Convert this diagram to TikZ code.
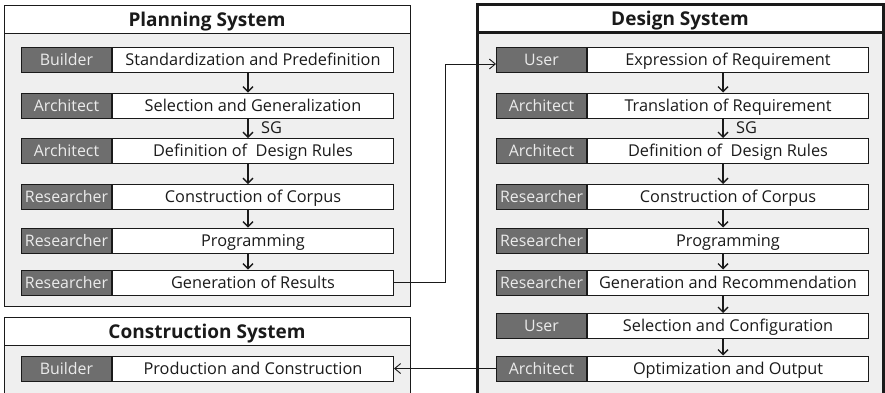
\documentclass[tikz,border=0pt]{standalone}
\usepackage{fontspec}
\setmainfont{Open Sans}
\usetikzlibrary{arrows.meta}
\definecolor{panelbg}{HTML}{EFEFEF}
\definecolor{rolebg}{HTML}{6E6E6E}
\definecolor{rolefg}{HTML}{EBEBEB}
\definecolor{ink}{HTML}{1A1A1A}
\tikzset{
  txt/.style={font=\fontsize{16.3}{18}\selectfont},
  rolebox/.style={draw=ink, line width=1pt, fill=rolebg, text=rolefg,
    font=\fontsize{15.9}{18}\selectfont, text height=11.35pt, text depth=0pt,
    minimum width=90pt, minimum height=25pt, inner sep=0pt, anchor=east},
  taskbox/.style={draw=ink, line width=1pt, fill=white, text=ink, txt,
    text height=11.6pt, text depth=0pt,
    minimum width=281pt, minimum height=25pt, inner sep=0pt, anchor=west},
  panel/.style={draw=ink, line width=1pt, fill=panelbg},
  headbar/.style={draw=ink, line width=1pt, fill=white},
  headtxt/.style={font=\fontsize{19}{21}\selectfont\bfseries, text=ink,
    text height=13.6pt, text depth=0pt},
  flow/.style={draw=ink, line width=1.4pt,
    -{Straight Barb[length=5pt, width=10pt, line width=1.4pt]}},
  link/.style={draw=ink, line width=0.9pt,
    -{Straight Barb[length=6pt, width=10pt, line width=0.9pt]}},
  sg/.style={txt, text=ink, anchor=west, inner sep=0pt}
}
\begin{document}
\begin{tikzpicture}[x=1pt, y=-1pt]
\useasboundingbox (0,0) rectangle (885,392);
\fill[white] (0,0) rectangle (885,392);

% Planning system panel
\path[panel] (4,5) rectangle (410,306);
\path[headbar] (4,5) rectangle (410,33);
\node[headtxt] (ptitle) at (207,19.5) {Planning System};

% Construction system panel
\path[panel] (4,317) rectangle (410,400);
\path[headbar] (4,317) rectangle (410,345);
\node[headtxt] (ctitle) at (207,331.5) {Construction System};

% Design system panel
\path[panel, line width=3pt] (477,4) rectangle (883,400);
\path[headbar, line width=3pt] (477,4) rectangle (883,32);
\node[headtxt] (dtitle) at (680,18.5) {Design System};

% Planning rows
\foreach \i/\y/\r/\t in {
  1/60/Builder/Standardization and Predefinition,
  2/105.5/Architect/Selection and Generalization,
  3/151/Architect/Definition of\ \ Design Rules,
  4/197/Researcher/Construction of Corpus,
  5/240.5/Researcher/Programming,
  6/282.5/Researcher/Generation of Results}{
  \node[rolebox] (p\i r) at (112,\y) {\r};
  \node[taskbox] (p\i t) at (112,\y) {\t};
}

% Construction row
\node[rolebox] (c1r) at (112,368.5) {Builder};
\node[taskbox] (c1t) at (112,368.5) {Production and Construction};

% Design rows
\foreach \i/\y/\r/\t in {
  1/60/User/Expression of Requirement,
  2/105.5/Architect/Translation of Requirement,
  3/151/Architect/Definition of\ \ Design Rules,
  4/197/Researcher/Construction of Corpus,
  5/240.5/Researcher/Programming,
  6/282.5/Researcher/Generation and Recommendation,
  7/326/User/Selection and Configuration,
  8/368.5/Architect/Optimization and Output}{
  \node[rolebox] (d\i r) at (587,\y) {\r};
  \node[taskbox] (d\i t) at (587,\y) {\t};
}

% Step arrows inside the planning panel
\foreach \a/\b in {1/2,2/3,3/4,4/5,5/6}{
  \draw[flow] ([xshift=-5pt]p\a t.south) -- ([xshift=-5pt]p\b t.north);
}
\node[sg] (psg) at ([xshift=8pt, yshift=-9.5pt]p2t.south) {SG};

% Step arrows inside the design panel
\foreach \a/\b in {1/2,2/3,3/4,4/5,5/6,6/7,7/8}{
  \draw[flow] ([xshift=-5pt]d\a t.south) -- ([xshift=-5pt]d\b t.north);
}
\node[sg] (dsg) at ([xshift=8pt, yshift=-9.5pt]d2t.south) {SG};

% Links between the systems
\coordinate (bend) at (445,282.5);
\draw[link] (p6t.east) -- (bend) |- ([yshift=-4pt]d1r.west);
\draw[link] (d8r.west) -- (c1t.east);
\end{tikzpicture}
\end{document}
